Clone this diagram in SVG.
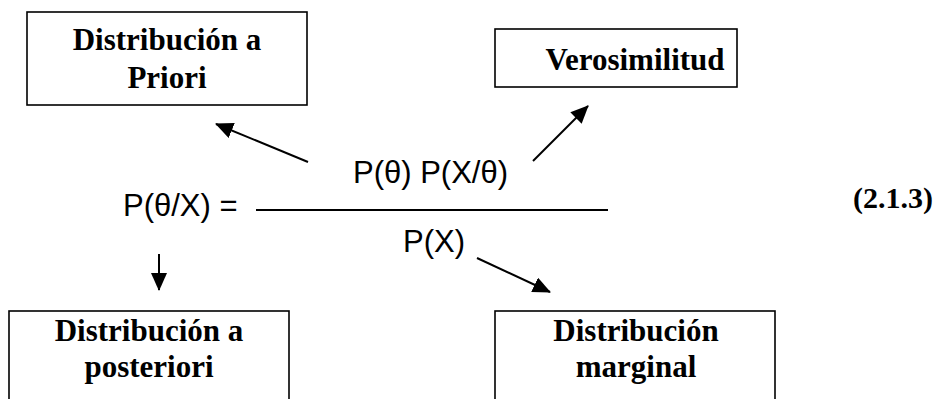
<svg xmlns="http://www.w3.org/2000/svg" width="936" height="399" viewBox="0 0 936 399">
<defs>
<style>
.box{fill:#fff;stroke:#000;stroke-width:1.6}
.bt{font-family:"Liberation Serif","Times New Roman",serif;font-weight:bold;font-size:31px;text-anchor:middle;fill:#000}
.ft{font-family:"Liberation Sans",Arial,sans-serif;font-size:31px;fill:#000}
.ln{stroke:#000;stroke-width:2;fill:none}
</style>
<marker id="ah" markerWidth="18" markerHeight="16" refX="17" refY="8" orient="auto" markerUnits="userSpaceOnUse" viewBox="0 0 18 16">
<path d="M0,0 L18,8 L0,16 Z" fill="#000"/>
</marker>
</defs>
<rect width="936" height="399" fill="#fff"/>
<g id="priori">
<rect class="box" x="27" y="12" width="280" height="93"/>
<text class="bt" x="167" y="50">Distribución a</text>
<text class="bt" x="167" y="88">Priori</text>
</g>
<g id="verosimilitud">
<rect class="box" x="495" y="29" width="242" height="58"/>
<text class="bt" x="635" y="70">Verosimilitud</text>
</g>
<g id="posteriori">
<rect class="box" x="9" y="311" width="280" height="100"/>
<text class="bt" x="149" y="341">Distribución a</text>
<text class="bt" x="149" y="377">posteriori</text>
</g>
<g id="marginal">
<rect class="box" x="495" y="311" width="280" height="100"/>
<text class="bt" x="636" y="341">Distribución</text>
<text class="bt" x="636" y="377">marginal</text>
</g>
<g id="formula">
<text class="ft" x="123" y="216">P(θ/X) =</text>
<text class="ft" x="353" y="183">P(θ) P(X/θ)</text>
<text class="ft" x="403" y="252">P(X)</text>
<line x1="256" y1="210" x2="608" y2="210" stroke="#000" stroke-width="2"/>
<text x="893" y="208" font-family="Liberation Serif,serif" font-weight="bold" font-size="30" text-anchor="middle">(2.1.3)</text>
</g>
<g id="connectors">
<line class="ln" x1="308" y1="162" x2="216" y2="124" marker-end="url(#ah)"/>
<line class="ln" x1="533" y1="161" x2="588" y2="106" marker-end="url(#ah)"/>
<line class="ln" x1="159" y1="254" x2="159" y2="290" marker-end="url(#ah)"/>
<line class="ln" x1="477" y1="258" x2="550" y2="292" marker-end="url(#ah)"/>
</g>
</svg>
